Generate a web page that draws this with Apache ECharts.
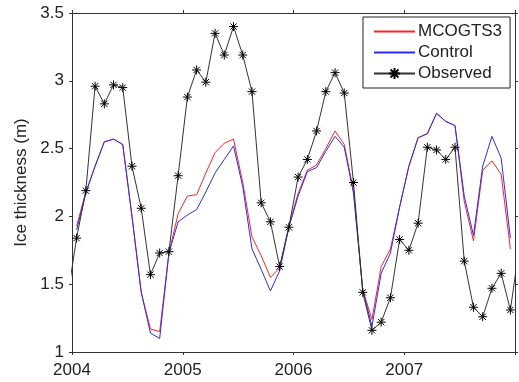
<!DOCTYPE html>
<html>
<head>
<meta charset="utf-8">
<script src="https://cdn.jsdelivr.net/npm/echarts@6/dist/echarts.min.js"></script>
<style>
  html, body { margin: 0; padding: 0; background: #fff; }
  #chart { width: 519px; height: 382px; }
</style>
</head>
<body>
<div id="chart"></div>
<script>
// Monthly ice thickness (m), values at mid-month
const startYear = 2004;
const yearTicks = [2004, 2005, 2006, 2007, 2008];
const seriesNames = ['MCOGTS3', 'Control', 'Observed'];

// Observed: first value is Dec 2003, last is Jan 2008
const observedStartMonth = -1;
const observed = [
  1.40,
  1.84, 2.19, 2.96, 2.83, 2.97, 2.95, 2.37, 2.06, 1.57, 1.73, 1.74, 2.30,
  2.88, 3.08, 2.99, 3.35, 3.19, 3.40, 3.19, 2.92, 2.10, 1.96, 1.63, 1.92,
  2.29, 2.42, 2.63, 2.92, 3.06, 2.91, 2.25, 1.44, 1.16, 1.22, 1.40, 1.83,
  1.75, 1.95, 2.51, 2.49, 2.42, 2.51, 1.67, 1.33, 1.26, 1.47, 1.58, 1.31,
  1.79
];

// Model runs: Jan 2004 .. Dec 2007
const modelStartMonth = 0;
const mcogts3 = [
  1.93, 2.18, 2.37, 2.55, 2.57, 2.53, 2.00, 1.44, 1.17, 1.15, 1.73, 2.02,
  2.15, 2.16, 2.32, 2.47, 2.54, 2.57, 2.25, 1.85, 1.71, 1.55, 1.62, 1.93,
  2.17, 2.34, 2.38, 2.50, 2.63, 2.53, 2.19, 1.46, 1.24, 1.63, 1.76, 2.07,
  2.37, 2.58, 2.61, 2.76, 2.70, 2.67, 2.11, 1.82, 2.34, 2.41, 2.31, 1.76
];
const control = [
  1.90, 2.17, 2.37, 2.55, 2.57, 2.53, 2.00, 1.44, 1.14, 1.10, 1.73, 1.96,
  2.01, 2.05, 2.18, 2.32, 2.42, 2.52, 2.22, 1.76, 1.61, 1.45, 1.60, 1.92,
  2.15, 2.33, 2.36, 2.48, 2.59, 2.51, 2.17, 1.46, 1.19, 1.58, 1.73, 2.07,
  2.37, 2.58, 2.61, 2.76, 2.70, 2.67, 2.15, 1.86, 2.37, 2.59, 2.43, 1.84
];

function toSeries(values, firstMonth) {
  return values.map((v, i) => [startYear + (firstMonth + i + 0.5) / 12, v]);
}

const FONT = '"Liberation Sans", Arial, sans-serif';
const TEXT = '#222';
const AXIS = '#333';
const RED = '#ff2424';
const BLUE = '#2a2aff';
const ASTERISK = 'path://M5,0L5,10M0,5L10,5M1.5,1.5L8.5,8.5M1.5,8.5L8.5,1.5';

const labelStyle = { color: TEXT, fontFamily: FONT, fontSize: 17 };

const chart = echarts.init(document.getElementById('chart'), null, { renderer: 'canvas' });
chart.setOption({
  animation: false,
  backgroundColor: '#fff',
  grid: { left: 72, right: 4, top: 13, bottom: 30 },
  xAxis: [
    {
      type: 'value', min: yearTicks[0], max: yearTicks[yearTicks.length - 1], interval: 1,
      axisLine: { lineStyle: { color: AXIS, width: 1 } },
      axisTick: { inside: false, length: 3, lineStyle: { color: AXIS } },
      axisLabel: Object.assign({ margin: 10, formatter: v => v < 2008 ? String(v) : '' }, labelStyle),
      splitLine: { show: false }
    },
    {
      type: 'value', position: 'top', min: yearTicks[0], max: yearTicks[yearTicks.length - 1], interval: 1,
      axisLine: { lineStyle: { color: AXIS, width: 1 } },
      axisTick: { inside: false, length: 3, lineStyle: { color: AXIS } },
      axisLabel: { show: false },
      splitLine: { show: false }
    }
  ],
  yAxis: [
    {
      type: 'value', min: 1, max: 3.5, interval: 0.5,
      name: 'Ice thickness (m)', nameLocation: 'middle', nameGap: 30,
      nameTextStyle: { color: TEXT, fontFamily: FONT, fontSize: 17 },
      axisLine: { show: true, lineStyle: { color: AXIS, width: 1 } },
      axisTick: { show: true, inside: false, length: 3, lineStyle: { color: AXIS } },
      axisLabel: Object.assign({ margin: 8 }, labelStyle),
      splitLine: { show: false }
    },
    {
      type: 'value', position: 'right', min: 1, max: 3.5, interval: 0.5,
      axisLine: { show: true, lineStyle: { color: AXIS, width: 1 } },
      axisTick: { show: true, inside: false, length: 3, lineStyle: { color: AXIS } },
      axisLabel: { show: false },
      splitLine: { show: false }
    }
  ],
  legend: {
    orient: 'vertical',
    left: 363, top: 17,
    padding: [6, 8, 6, 10],
    itemWidth: 41, itemHeight: 14, itemGap: 4,
    backgroundColor: '#fff',
    borderColor: '#222', borderWidth: 1,
    textStyle: { color: TEXT, fontFamily: FONT, fontSize: 17, padding: [0, 0, 0, -2] },
    data: seriesNames
  },
  series: [
    {
      name: seriesNames[0], type: 'line', data: toSeries(mcogts3, modelStartMonth),
      symbol: 'circle', showSymbol: false, color: RED,
      itemStyle: { opacity: 0 },
      lineStyle: { color: RED, width: 1, opacity: 1 }, z: 2
    },
    {
      name: seriesNames[1], type: 'line', data: toSeries(control, modelStartMonth),
      symbol: 'circle', showSymbol: false, color: BLUE,
      itemStyle: { opacity: 0 },
      lineStyle: { color: BLUE, width: 1, opacity: 1 }, z: 3
    },
    {
      name: seriesNames[2], type: 'line', data: toSeries(observed, observedStartMonth),
      symbol: ASTERISK, symbolSize: 9, showAllSymbol: true, color: '#000',
      itemStyle: { color: 'none', borderColor: '#000', borderWidth: 1 },
      lineStyle: { color: '#333', width: 1 }, z: 4, clip: true
    }
  ]
});
</script>
</body>
</html>
